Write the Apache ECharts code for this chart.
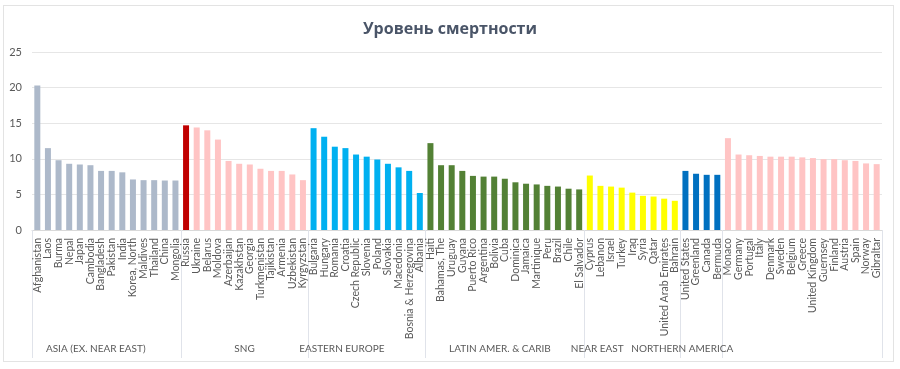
<!DOCTYPE html>
<html>
<head>
<meta charset="utf-8">
<script src="https://cdn.jsdelivr.net/npm/echarts@6/dist/echarts.min.js"></script>
<style>
html,body{margin:0;padding:0;background:#fff;}
#frame{position:absolute;left:3px;top:5px;width:891px;height:357px;border:1px solid #E3E3E3;box-sizing:border-box;}
#chart{position:absolute;left:0;top:0;width:900px;height:369px;}
</style>
</head>
<body>
<div id="frame"></div>
<div id="chart"></div>
<script>
const title = 'Уровень смертности';

const countries = [
  'Afghanistan','Laos','Burma','Nepal','Japan','Cambodia','Bangladesh','Pakistan','India','Korea, North','Maldives','Thailand','China','Mongolia',
  'Russia','Ukraine','Belarus','Moldova','Azerbaijan','Kazakhstan','Georgia','Turkmenistan','Tajikistan','Armenia','Uzbekistan','Kyrgyzstan',
  'Bulgaria','Hungary','Romania','Croatia','Czech Republic','Slovenia','Poland','Slovakia','Macedonia','Bosnia & Herzegovina','Albania',
  'Haiti','Bahamas, The','Uruguay','Guyana','Puerto Rico','Argentina','Bolivia','Cuba','Dominica','Jamaica','Martinique','Peru','Brazil','Chile','El Salvador',
  'Cyprus','Lebanon','Israel','Turkey','Iraq','Syria','Qatar','United Arab Emirates','Bahrain',
  'United States','Greenland','Canada','Bermuda',
  'Monaco','Germany','Portugal','Italy','Denmark','Sweden','Belgium','Greece','United Kingdom','Guernsey','Finland','Austria','Spain','Norway','Gibraltar'
];

const deathRate = [
  20.3,11.5,9.8,9.3,9.2,9.1,8.3,8.3,8.1,7.1,7.0,7.0,6.95,6.95,
  14.7,14.4,14.0,12.7,9.7,9.3,9.2,8.6,8.3,8.3,7.8,7.0,
  14.3,13.1,11.7,11.5,10.6,10.3,9.9,9.3,8.8,8.3,5.2,
  12.2,9.1,9.1,8.3,7.6,7.5,7.5,7.2,6.7,6.5,6.4,6.2,6.1,5.8,5.7,
  7.65,6.2,6.1,5.95,5.25,4.8,4.7,4.4,4.1,
  8.3,7.9,7.75,7.75,
  12.9,10.6,10.5,10.4,10.3,10.3,10.3,10.2,10.1,9.95,9.95,9.8,9.7,9.35,9.25
];

const groupNames = ['ASIA (EX. NEAR EAST)','SNG','EASTERN EUROPE','LATIN AMER. & CARIB','NEAR EAST','NORTHERN AMERICA','WESTERN EUROPE'];
const groupSizes = [14,12,11,15,9,4,15];
const groupColors = ['#ADB9CA','#FFC4C4','#00B0F0','#538135','#FFFF00','#0070C0','#FFC4C4'];
const highlightCountry = 'Russia';
const highlightColor = '#C00000';

const yTicks = [0,5,10,15,20,25];

// layout (not data): horizontal nudges of group labels, in category units
const groupLabelShift = [-1.0, 0, -2.34, -0.46, -3.3, -1.8, -2.4];

// build
const boundaries = [0];
groupSizes.forEach(s => boundaries.push(boundaries[boundaries.length-1] + s));
const labelPos = groupSizes.map((s,i) => boundaries[i] + s/2 + groupLabelShift[i]);
const barColors = [];
groupSizes.forEach((s,i) => { for (let k=0;k<s;k++) barColors.push(groupColors[i]); });
const barData = deathRate.map((v,i) => ({
  value: v,
  itemStyle: { color: countries[i] === highlightCountry ? highlightColor : barColors[i] }
}));

const chart = echarts.init(document.getElementById('chart'), null, {renderer:'canvas'});
const txt = '#595959';
chart.setOption({
  animation: false,
  title: {
    text: title, left: 'center', top: 16,
    textStyle: { fontFamily: 'Open Sans', fontSize: 16, fontWeight: 'bold', color: '#4A5568' }
  },
  grid: { left: 32, right: 18, top: 52, bottom: 139, containLabel: false },
  xAxis: [
    {
      type: 'category', data: countries,
      axisLine: { show: true, lineStyle: { color: '#D9D9D9' } },
      axisTick: { show: false },
      axisLabel: { interval: 0, rotate: 90, color: txt, fontFamily: 'Lato', fontSize: 10.5, margin: 8 }
    },
    {
      type: 'value', min: 0, max: boundaries[boundaries.length-1], position: 'bottom', offset: 0,
      axisLine: { show: false },
      splitLine: { show: false },
      axisTick: { show: true, customValues: boundaries, length: 128, lineStyle: { color: '#E0E3EA' } },
      axisLabel: {
        customValues: labelPos, margin: 114, color: txt, fontFamily: 'Lato', fontSize: 10,
        formatter: v => { const i = labelPos.findIndex(p => Math.abs(p - v) < 1e-6); return i >= 0 ? groupNames[i] : ''; }
      }
    }
  ],
  yAxis: {
    type: 'value', min: yTicks[0], max: yTicks[yTicks.length-1], interval: 5,
    axisLine: { show: false }, axisTick: { show: false },
    axisLabel: { color: txt, fontFamily: 'Lato', fontSize: 11, margin: 10 },
    splitLine: { lineStyle: { color: '#E6E6E6' } }
  },
  series: [{
    type: 'bar', xAxisIndex: 0, data: barData, barWidth: 6,
    itemStyle: { borderWidth: 0 }
  }]
});
</script>
</body>
</html>
